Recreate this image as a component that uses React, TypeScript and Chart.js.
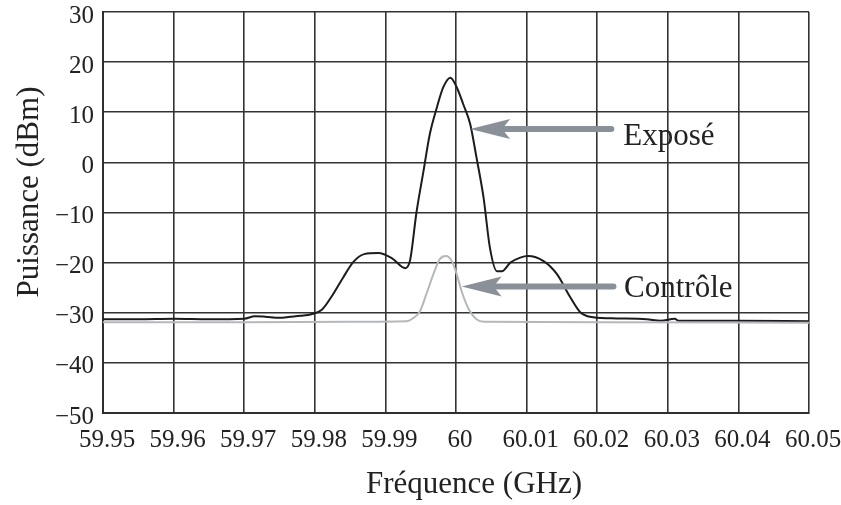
import { useEffect, useRef } from 'react';
import { Chart, registerables } from 'chart.js';

Chart.register(...registerables);

// Exposé trace (GHz, dBm)
const exposeFreq = [
  59.95, 59.955, 59.96, 59.965, 59.97, 59.9715, 59.973, 59.975, 59.9765, 59.978,
  59.9795, 59.981, 59.9825, 59.984, 59.9855, 59.987, 59.989, 59.991, 59.9928, 59.9935,
  59.9944, 59.9954, 59.9963, 59.9973, 59.9982, 59.9992, 60.0001, 60.001, 60.002, 60.0029,
  60.0039, 60.0048, 60.0058, 60.0065, 60.0077, 60.0091, 60.0102, 60.0124, 60.0143, 60.0161,
  60.0176, 60.019, 60.022, 60.027, 60.029, 60.031, 60.0315, 60.04, 60.05,
];
const exposeDbm = [
  -31.3, -31.3, -31.2, -31.3, -31.2, -30.7, -30.8, -31.0, -30.8, -30.6,
  -30.3, -29.4, -26.5, -23.0, -19.8, -18.3, -18.1, -19.2, -21.1, -19.5,
  -10.0, -1.7, 5.7, 11.0, 15.0, 16.9, 15.0, 11.7, 7.7, 1.0,
  -7.0, -17.0, -21.7, -21.7, -20.0, -19.0, -18.7, -19.7, -22.3, -26.7,
  -29.9, -30.8, -31.1, -31.3, -31.6, -31.2, -31.6, -31.6, -31.7,
];

// Contrôle trace (GHz, dBm)
const controleFreq = [
  59.95, 59.97, 59.985, 59.993, 59.994, 59.9949, 59.9958, 59.9968, 59.9977, 59.9986,
  59.9994, 60.0001, 60.0008, 60.0017, 60.0029, 60.004, 60.02, 60.05,
];
const controleDbm = [
  -31.9, -31.9, -31.8, -31.7, -31.0, -29.7, -26.3, -22.3, -19.3, -18.7,
  -19.7, -22.3, -25.7, -29.0, -31.3, -31.8, -31.9, -32.0,
];

const xTickLabels = [
  '59.95', '59.96', '59.97', '59.98', '59.99', '60', '60.01', '60.02', '60.03', '60.04', '60.05',
];
const yTickValues = [-50, -40, -30, -20, -10, 0, 10, 20, 30];

const annotationLabels = ['Exposé', 'Contrôle'];
const annotationTipFreq = [60.002, 60.0008];
const annotationTailFreq = [60.022, 60.0223];
const annotationArrowDbm = [6.65, -24.76];
const annotationTextFreq = [60.0237, 60.0238];
const annotationTextDbm = [3.4, -26.8];

const xTitle = 'Fréquence (GHz)';
const yTitle = 'Puissance (dBm)';

const SERIF = "'Liberation Serif', 'Times New Roman', serif";

export default function App() {
  const ref = useRef<HTMLCanvasElement | null>(null);

  useEffect(() => {
    const canvas = ref.current;
    if (!canvas) return;

    const overlay = {
      id: 'overlay',
      afterDatasetsDraw(chart: any) {
        const ctx = chart.ctx;
        const xs = chart.scales.x;
        const ys = chart.scales.y;
        ctx.save();
        const col = '#8a9097';
        for (let i = 0; i < annotationLabels.length; i++) {
          const tipX = xs.getPixelForValue(annotationTipFreq[i]);
          const tailX = xs.getPixelForValue(annotationTailFreq[i]);
          const y = ys.getPixelForValue(annotationArrowDbm[i]);
          ctx.strokeStyle = col;
          ctx.lineWidth = 6;
          ctx.lineCap = 'round';
          ctx.beginPath();
          ctx.moveTo(tailX, y);
          ctx.lineTo(tipX + 30, y);
          ctx.stroke();
          ctx.fillStyle = col;
          ctx.beginPath();
          ctx.moveTo(tipX, y);
          ctx.lineTo(tipX + 40, y - 10);
          ctx.lineTo(tipX + 32, y);
          ctx.lineTo(tipX + 40, y + 10);
          ctx.closePath();
          ctx.fill();
          ctx.fillStyle = '#222';
          ctx.font = `31px ${SERIF}`;
          ctx.textAlign = 'left';
          ctx.textBaseline = 'alphabetic';
          ctx.fillText(
            annotationLabels[i],
            xs.getPixelForValue(annotationTextFreq[i]),
            ys.getPixelForValue(annotationTextDbm[i])
          );
        }
        ctx.fillStyle = '#222';
        ctx.font = `31px ${SERIF}`;
        ctx.textAlign = 'center';
        ctx.textBaseline = 'alphabetic';
        ctx.fillText(xTitle, 474, 493);
        ctx.save();
        ctx.translate(38, 192);
        ctx.rotate(-Math.PI / 2);
        ctx.fillText(yTitle, 0, 0);
        ctx.restore();
        ctx.restore();
      },
    };

    const chart = new Chart(canvas, {
      type: 'line',
      data: {
        datasets: [
          {
            label: 'Contrôle',
            data: controleFreq.map((f, i) => ({ x: f, y: controleDbm[i] })),
            borderColor: '#b4b8bc',
            borderWidth: 2,
            pointRadius: 0,
            cubicInterpolationMode: 'monotone',
          },
          {
            label: 'Exposé',
            data: exposeFreq.map((f, i) => ({ x: f, y: exposeDbm[i] })),
            borderColor: '#1c1c1c',
            borderWidth: 2,
            pointRadius: 0,
            cubicInterpolationMode: 'monotone',
          },
        ],
      },
      options: {
        responsive: false,
        animation: false,
        devicePixelRatio: 1,
        layout: { padding: { left: 0, right: 32, top: 12, bottom: 0 } },
        plugins: { legend: { display: false }, tooltip: { enabled: false } },
        scales: {
          x: {
            type: 'linear',
            min: 59.95,
            max: 60.05,
            afterBuildTicks: (scale: any) => {
              scale.ticks = xTickLabels.map((l) => ({ value: parseFloat(l) }));
            },
            afterFit: (scale: any) => {
              scale.height = 92;
              scale.paddingLeft = 0;
              scale.paddingRight = 0;
            },
            grid: { color: '#333333', lineWidth: 1.6, drawTicks: false },
            border: { color: '#2e2e2e', width: 2 },
            ticks: {
              autoSkip: false,
              maxRotation: 0,
              padding: 12,
              labelOffset: 4,
              color: '#222',
              font: { family: SERIF, size: 25 },
              callback: (_v: any, i: number) => xTickLabels[i],
            },
          },
          y: {
            type: 'linear',
            min: -50,
            max: 30,
            afterBuildTicks: (scale: any) => {
              scale.ticks = yTickValues.map((v) => ({ value: v }));
            },
            afterFit: (scale: any) => {
              scale.width = 103;
              scale.paddingTop = 0;
              scale.paddingBottom = 0;
            },
            grid: { color: '#333333', lineWidth: 1.6, drawTicks: false },
            border: { color: '#2e2e2e', width: 2 },
            ticks: {
              padding: 9,
              color: '#222',
              labelOffset: 4,
              font: { family: SERIF, size: 25 },
              callback: (v: any) => (v < 0 ? '\u2212' + Math.abs(v) : String(v)),
            },
          },
        },
      },
      plugins: [overlay],
    });

    return () => chart.destroy();
  }, []);

  return (
    <div style={{ position: 'absolute', left: 0, top: 0, width: 841, height: 505, background: '#fff' }}>
      <canvas ref={ref} width={841} height={505} />
    </div>
  );
}
